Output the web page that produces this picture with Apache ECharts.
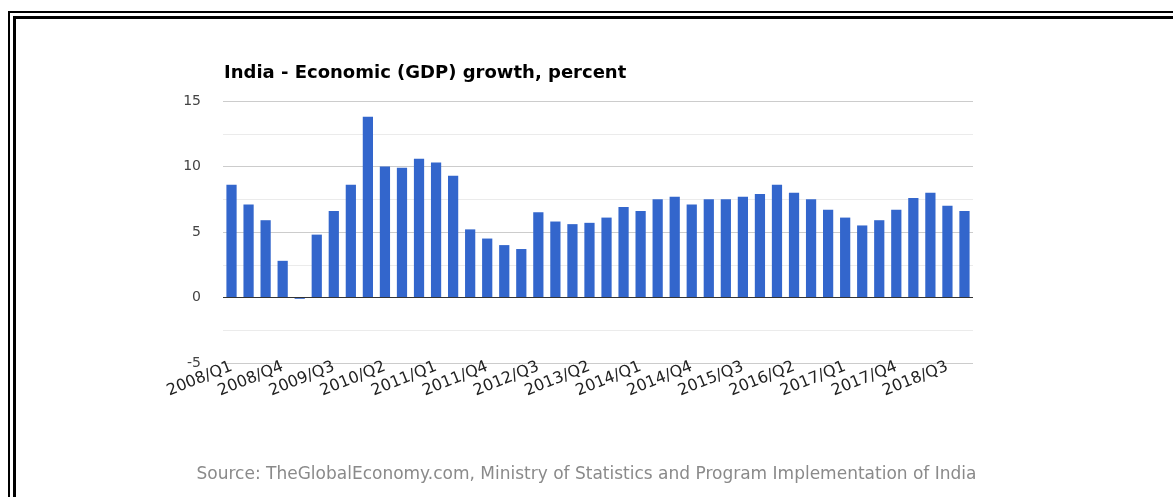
<!DOCTYPE html>
<html>
<head>
<meta charset="utf-8">
<script src="https://cdn.jsdelivr.net/npm/echarts@6/dist/echarts.min.js"></script>
<style>
html,body{margin:0;padding:0;background:#fff;}
#chart{width:1173px;height:497px;}
</style>
</head>
<body>
<div id="chart"></div>
<script>
var titleText = 'India - Economic (GDP) growth, percent';
var sourceText = 'Source: TheGlobalEconomy.com, Ministry of Statistics and Program Implementation of India';
var categories = [
  '2008/Q1','2008/Q2','2008/Q3','2008/Q4',
  '2009/Q1','2009/Q2','2009/Q3','2009/Q4',
  '2010/Q1','2010/Q2','2010/Q3','2010/Q4',
  '2011/Q1','2011/Q2','2011/Q3','2011/Q4',
  '2012/Q1','2012/Q2','2012/Q3','2012/Q4',
  '2013/Q1','2013/Q2','2013/Q3','2013/Q4',
  '2014/Q1','2014/Q2','2014/Q3','2014/Q4',
  '2015/Q1','2015/Q2','2015/Q3','2015/Q4',
  '2016/Q1','2016/Q2','2016/Q3','2016/Q4',
  '2017/Q1','2017/Q2','2017/Q3','2017/Q4',
  '2018/Q1','2018/Q2','2018/Q3','2018/Q4'
];
var gdpGrowth = [
  8.6, 7.1, 5.9, 2.8,
  -0.1, 4.8, 6.6, 8.6,
  13.8, 10.0, 9.9, 10.6,
  10.3, 9.3, 5.2, 4.5,
  4.0, 3.7, 6.5, 5.8,
  5.6, 5.7, 6.1, 6.9,
  6.6, 7.5, 7.7, 7.1,
  7.5, 7.5, 7.7, 7.9,
  8.6, 8.0, 7.5, 6.7,
  6.1, 5.5, 5.9, 6.7,
  7.6, 8.0, 7.0, 6.6
];
var yMin = -5, yMax = 15, yStep = 5;

var chart = echarts.init(document.getElementById('chart'), null, {renderer: 'canvas'});
chart.setOption({
  animation: false,
  backgroundColor: '#ffffff',
  title: [
    {
      text: titleText,
      left: 219,
      top: 59,
      textStyle: {fontFamily: 'DejaVu Sans', fontWeight: 'bold', fontSize: 18, color: '#000000'}
    },
    {
      text: sourceText,
      left: 'center',
      top: 461,
      textStyle: {fontFamily: 'DejaVu Sans', fontWeight: 'normal', fontSize: 17, color: '#8a8a8a'}
    }
  ],
  graphic: [
    {type: 'rect', silent: true, shape: {x: 8, y: 11, width: 1165, height: 2}, style: {fill: '#000'}},
    {type: 'rect', silent: true, shape: {x: 8, y: 11, width: 2, height: 486}, style: {fill: '#000'}},
    {type: 'rect', silent: true, shape: {x: 13, y: 16, width: 1160, height: 3}, style: {fill: '#000'}},
    {type: 'rect', silent: true, shape: {x: 13, y: 16, width: 3, height: 481}, style: {fill: '#000'}}
  ],
  grid: {left: 223, right: 200, top: 101, bottom: 134, containLabel: false, outerBoundsMode: 'none'},
  xAxis: {
    type: 'category',
    data: categories,
    axisLine: {show: false, onZero: false},
    axisTick: {show: false},
    splitLine: {show: false},
    axisLabel: {
      interval: 2,
      rotate: 22,
      margin: 3,
      fontFamily: 'DejaVu Sans',
      fontSize: 16,
      color: '#222222'
    }
  },
  yAxis: {
    type: 'value',
    min: yMin,
    max: yMax,
    interval: yStep,
    axisLine: {show: false},
    axisTick: {show: false},
    splitLine: {show: true, lineStyle: {color: '#cccccc', width: 1}},
    minorTick: {show: false, splitNumber: 2},
    minorSplitLine: {show: true, lineStyle: {color: '#ebebeb', width: 1}},
    axisLabel: {
      margin: 22,
      fontFamily: 'DejaVu Sans',
      fontSize: 14,
      color: '#444444'
    }
  },
  series: [{
    type: 'bar',
    data: gdpGrowth,
    barCategoryGap: '40%',
    itemStyle: {color: '#3366cc'},
    markLine: {
      silent: true,
      symbol: 'none',
      label: {show: false},
      lineStyle: {color: '#333333', type: 'solid', width: 1},
      data: [{yAxis: 0}]
    }
  }]
});
</script>
</body>
</html>
